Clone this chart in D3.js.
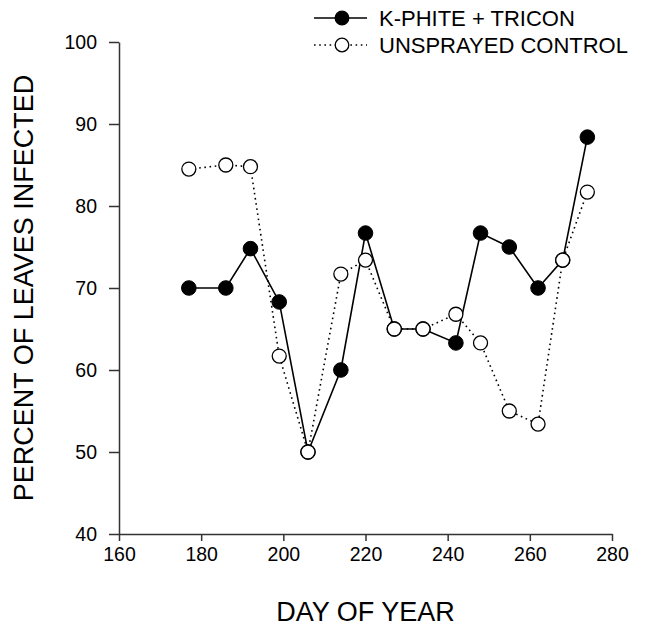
<!DOCTYPE html>
<html>
<head>
<meta charset="utf-8">
<script src="https://cdn.jsdelivr.net/npm/d3@7"></script>
<style>
  html, body { margin: 0; padding: 0; background: #fff; }
  svg { display: block; font-family: "Liberation Sans", Arial, sans-serif; }
</style>
</head>
<body>
<svg id="chart" width="655" height="627"></svg>
<script>
// ---- data ----
const days = [177, 186, 192, 199, 206, 214, 220, 227, 234, 242, 248, 255, 262, 268, 274];
const kphite = [70, 70, 74.8, 68.3, 50, 60, 76.7, 65, 65, 63.3, 76.7, 75, 70, 73.4, 88.4];
const unsprayed = [84.5, 85, 84.8, 61.7, 50, 71.7, 73.4, 65, 65, 66.8, 63.3, 55, 53.4, 73.4, 81.7];
const seriesNames = ["K-PHITE + TRICON", "UNSPRAYED CONTROL"];
const xTicks = [160, 180, 200, 220, 240, 260, 280];
const yTicks = [40, 50, 60, 70, 80, 90, 100];
const xTitle = "DAY OF YEAR";
const yTitle = "PERCENT OF LEAVES INFECTED";

// ---- layout ----
const svg = d3.select("#chart");
const mLeft = 119, mRight = 612, mTop = 42, mBottom = 534;
const x = d3.scaleLinear().domain([160, 280]).range([mLeft, mRight]);
const y = d3.scaleLinear().domain([40, 100]).range([mBottom, mTop]);
const axisColor = "#333";

// x axis
const gx = svg.append("g").attr("transform", `translate(0,${mBottom})`)
  .call(d3.axisBottom(x).tickValues(xTicks).tickSize(7).tickPadding(6).tickSizeOuter(0));
gx.select(".domain").attr("stroke", axisColor).attr("stroke-width", 1.5);
gx.selectAll(".tick line").attr("stroke", axisColor).attr("stroke-width", 1.5);
gx.selectAll(".tick text").attr("font-size", 19.5).attr("fill", "#000")
  .attr("font-family", "Liberation Sans, Arial, sans-serif").attr("dy", "0.72em");

// y axis
const gy = svg.append("g").attr("transform", `translate(${mLeft},0)`)
  .call(d3.axisLeft(y).tickValues(yTicks).tickSize(10).tickPadding(12).tickSizeOuter(0));
gy.select(".domain").attr("stroke", axisColor).attr("stroke-width", 1.5);
gy.selectAll(".tick line").attr("stroke", axisColor).attr("stroke-width", 1.5);
gy.selectAll(".tick text").attr("font-size", 19.5).attr("fill", "#000")
  .attr("font-family", "Liberation Sans, Arial, sans-serif");

// axis titles
svg.append("text").attr("x", (mLeft + mRight) / 2).attr("y", 621)
  .attr("text-anchor", "middle").attr("font-size", 27).attr("fill", "#000").text(xTitle);
svg.append("text").attr("transform", `translate(32.5,${(mTop + mBottom) / 2}) rotate(-90)`)
  .attr("text-anchor", "middle").attr("font-size", 27).attr("fill", "#000").text(yTitle);

// series
const line = d3.line().x(d => x(d[0])).y(d => y(d[1]));
const kData = days.map((d, i) => [d, kphite[i]]);
const uData = days.map((d, i) => [d, unsprayed[i]]);

svg.append("path").datum(kData).attr("d", line)
  .attr("fill", "none").attr("stroke", "#000").attr("stroke-width", 1.6);
svg.append("g").selectAll("circle").data(kData).join("circle")
  .attr("cx", d => x(d[0])).attr("cy", d => y(d[1])).attr("r", 7.3)
  .attr("fill", "#000").attr("stroke", "#000").attr("stroke-width", 1);

svg.append("path").datum(uData).attr("d", line)
  .attr("fill", "none").attr("stroke", "#000").attr("stroke-width", 1.6)
  .attr("stroke-dasharray", "1.6 3.6");
svg.append("g").selectAll("circle").data(uData).join("circle")
  .attr("cx", d => x(d[0])).attr("cy", d => y(d[1])).attr("r", 7)
  .attr("fill", "#fff").attr("stroke", "#000").attr("stroke-width", 1.3);

// legend
const lg = svg.append("g");
const rows = [
  { name: seriesNames[0], cy: 18, base: 26, dash: null, fill: "#000" },
  { name: seriesNames[1], cy: 45, base: 52.7, dash: "1.6 3.6", fill: "#fff" }
];
rows.forEach(r => {
  lg.append("line").attr("x1", 314).attr("x2", 367).attr("y1", r.cy).attr("y2", r.cy)
    .attr("stroke", "#000").attr("stroke-width", 1.6)
    .attr("stroke-dasharray", r.dash);
  lg.append("circle").attr("cx", 342).attr("cy", r.cy).attr("r", 6.8)
    .attr("fill", r.fill).attr("stroke", "#000").attr("stroke-width", 1.3);
  lg.append("text").attr("x", 379).attr("y", r.base).attr("font-size", 22)
    .attr("fill", "#000").text(r.name);
});
</script>
</body>
</html>
